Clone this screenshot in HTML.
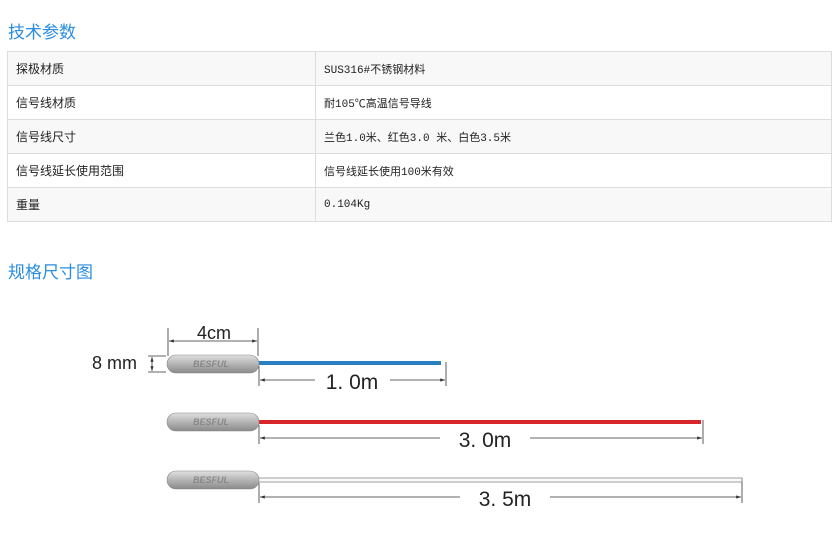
<!DOCTYPE html>
<html><head><meta charset="utf-8"><style>
body{margin:0;width:840px;height:541px;background:#fff;font-family:"Liberation Sans","Noto Sans CJK SC",sans-serif;position:relative;overflow:hidden}
h2{position:absolute;margin:0;font-weight:normal;font-size:17px;color:#2b8de0;left:8px}
table{position:absolute;left:7px;top:51px;width:825px;border-collapse:collapse;font-size:12px;color:#222}
td{border:1px solid #ddd;height:33px;padding:0 0 0 8px}
tr:nth-child(odd) td{background:#f8f8f8}
td.v{font-family:"Liberation Mono","Noto Sans CJK SC",monospace;font-size:11px}
</style></head><body>
<h2 style="top:18px">技术参数</h2>
<table>
<tr><td style="width:299px">探极材质</td><td class="v">SUS316#不锈钢材料</td></tr>
<tr><td>信号线材质</td><td class="v">耐105℃高温信号导线</td></tr>
<tr><td>信号线尺寸</td><td class="v">兰色1.0米、红色3.0 米、白色3.5米</td></tr>
<tr><td>信号线延长使用范围</td><td class="v">信号线延长使用100米有效</td></tr>
<tr><td>重量</td><td class="v">0.104Kg</td></tr>
</table>
<h2 style="top:258px">规格尺寸图</h2>
<svg width="840" height="541" style="position:absolute;left:0;top:0" font-family="Liberation Sans, sans-serif">
<defs><linearGradient id="g" x1="0" y1="0" x2="0" y2="1"><stop offset="0" stop-color="#e0e0e0"/><stop offset="0.4" stop-color="#bdbdbd"/><stop offset="1" stop-color="#8a8a8a"/></linearGradient>
<marker id="a" markerWidth="6" markerHeight="6" refX="6" refY="3" orient="auto-start-reverse"><path d="M0,1 L6,3 L0,5z" fill="#333"/></marker></defs>
<g stroke="#333" stroke-width="0.8" fill="none">
<line x1="168" y1="328" x2="168" y2="356"/><line x1="258" y1="328" x2="258" y2="356"/>
<line x1="169" y1="341" x2="257" y2="341" marker-start="url(#a)" marker-end="url(#a)"/>
<line x1="148" y1="356" x2="166" y2="356"/><line x1="148" y1="372" x2="166" y2="372"/>
<line x1="152" y1="357" x2="152" y2="371" marker-start="url(#a)" marker-end="url(#a)"/>
<line x1="259" y1="366" x2="259" y2="386"/><line x1="446" y1="362" x2="446" y2="386"/>
<line x1="260" y1="380" x2="315" y2="380" marker-start="url(#a)"/><line x1="390" y1="380" x2="445" y2="380" marker-end="url(#a)"/>
<line x1="259" y1="425" x2="259" y2="444"/><line x1="703" y1="420" x2="703" y2="444"/>
<line x1="260" y1="438" x2="440" y2="438" marker-start="url(#a)"/><line x1="530" y1="438" x2="702" y2="438" marker-end="url(#a)"/>
<line x1="259" y1="483" x2="259" y2="503"/><line x1="742" y1="478" x2="742" y2="503"/>
<line x1="260" y1="497" x2="460" y2="497" marker-start="url(#a)"/><line x1="550" y1="497" x2="741" y2="497" marker-end="url(#a)"/>
</g>
<rect x="258" y="361" width="183" height="4" fill="#2a7fc0"/>
<rect x="258" y="420" width="443" height="4" fill="#d8262a"/>
<rect x="258" y="478" width="484" height="4" fill="#fafafa" stroke="#777" stroke-width="0.7"/>
<g fill="url(#g)" stroke="#888" stroke-width="0.6">
<rect x="167" y="355" width="92" height="18" rx="9"/>
<rect x="167" y="413" width="92" height="18" rx="9"/>
<rect x="167" y="471" width="92" height="18" rx="9"/>
</g>
<g font-size="9" font-style="italic" font-weight="bold" fill="#888">
<text x="193" y="367">BESFUL</text><text x="193" y="425">BESFUL</text><text x="193" y="483">BESFUL</text></g>
<g fill="#222" font-size="21">
<text x="214" y="339" text-anchor="middle" font-size="18">4cm</text>
<text x="92" y="369" font-size="18">8 mm</text>
<text x="352" y="389" text-anchor="middle">1. 0m</text>
<text x="485" y="447" text-anchor="middle">3. 0m</text>
<text x="505" y="506" text-anchor="middle">3. 5m</text>
</g>
</svg>
</body></html>
